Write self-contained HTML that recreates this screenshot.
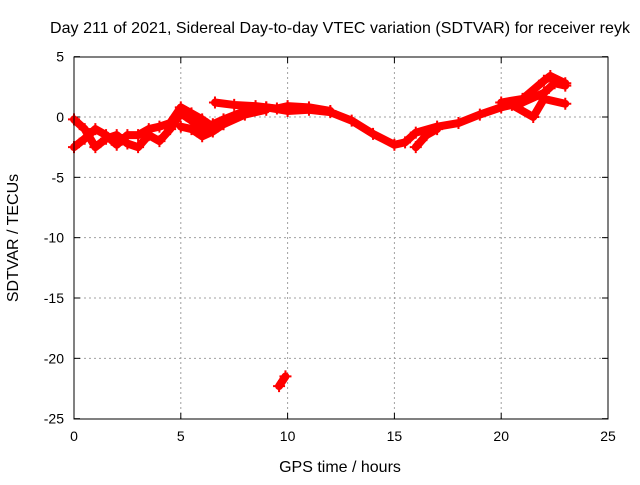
<!DOCTYPE html>
<html><head><meta charset="utf-8"><style>
body{margin:0;background:#fff}
svg text{font-family:"Liberation Sans",sans-serif;font-size:14px;fill:#000}
svg text.big{font-size:16px}
</style></head><body>
<svg id="chart" width="640" height="480">
<rect width="640" height="480" fill="#fff"/>
<text class="big" x="340" y="33" text-anchor="middle" textLength="580">Day 211 of 2021, Sidereal Day-to-day VTEC variation (SDTVAR) for receiver reyk</text>
<text class="big" x="340" y="472" text-anchor="middle">GPS time / hours</text>
<text class="big" transform="translate(18,238) rotate(-90)" text-anchor="middle">SDTVAR / TECUs</text>
<g id="grid"></g><g id="ticks"></g><g id="data"></g>
<rect x="74" y="57" width="534" height="362" fill="none" stroke="#000"/>
</svg>
<script>
const xTicks=[0,5,10,15,20,25];
const yTicks=[5,0,-5,-10,-15,-20,-25];
const track1=[[0,-0.2],[0.5,-1],[1,-2.5],[1.5,-1.8],[2,-1.5],[2.5,-2.2],[3,-2.5],[3.5,-1.5],[4,-2],[4.5,-1],[5,0.3],[5.5,-0.3],[6,-1],[6.5,-0.6],[7,-0.2],[8,0.5],[9,0.8],[10,0.5],[11,0.6],[12,0.4],[13,-0.3],[14,-1.4],[15,-2.3],[15.5,-2.1],[16,-1.3],[17,-0.8],[18,-0.5],[19,0.2],[20,0.8],[21,1.2],[22,2],[22.5,2.8],[23,2.6]];
const track2=[[0,-2.5],[0.5,-1.8],[1,-1],[1.5,-1.5],[2,-2.3],[2.5,-1.5],[3,-1.5],[3.5,-1],[4,-0.8],[4.5,-0.5],[5,0.8],[5.5,0.3],[6,-0.2],[6.5,-0.8],[7,-0.5],[7.5,0],[8,0.4],[9,0.8]];
const track3=[[5,-0.8],[5.5,-1],[6,-1.6],[6.5,-1.2],[7,-0.6],[8,0.2],[9,0.6]];
const track4=[[6.6,1.2],[7.5,1.0],[8.5,0.9],[9.5,0.7],[10,0.9],[11,0.8],[12,0.5]];
const track5=[[16,-2.5],[16.5,-1.5],[17,-1]];
const track6=[[20,1.2],[21,1.5],[22,3],[22.3,3.4],[23,2.8]];
const track7=[[20.5,1.0],[21.5,0],[22,1.5],[23,1.1]];
const track8=[[9.6,-22.3],[9.9,-21.5]];
const tracks=[track1,track2,track3,track4,track5,track6,track7,track8];
const X=h=>74+h*534/25, Y=v=>117-v*362/30;
const NS='http://www.w3.org/2000/svg';
function mk(t,a,p){const e=document.createElementNS(NS,t);for(const k in a)e.setAttribute(k,a[k]);p.appendChild(e);return e;}
const g=document.getElementById('grid'),tk=document.getElementById('ticks'),d=document.getElementById('data');
xTicks.forEach(v=>{const x=X(v);
 if(v>0&&v<25){const l=mk('line',{x1:x,x2:x,y1:57,y2:419,stroke:'#a0a0a0','stroke-dasharray':'2,3'},g);
 
 }
 mk('line',{x1:x,x2:x,y1:419,y2:413,stroke:'#000'},tk);mk('line',{x1:x,x2:x,y1:57,y2:63,stroke:'#000'},tk);
 const t=mk('text',{x:x,y:441,'text-anchor':'middle'},tk);t.textContent=v;
 
 });
yTicks.forEach(v=>{const y=Y(v);
 if(v>-25&&v<5){const l=mk('line',{x1:74,x2:608,y1:y,y2:y,stroke:'#a0a0a0','stroke-dasharray':'2,3'},g);
 
 }
 mk('line',{x1:74,x2:80,y1:y,y2:y,stroke:'#000'},tk);mk('line',{x1:608,x2:602,y1:y,y2:y,stroke:'#000'},tk);
 const t=mk('text',{x:64,y:y+5,'text-anchor':'end'},tk);t.textContent=v;
 
 });
tracks.forEach(tr=>{
 const pl=mk('polyline',{points:tr.map(p=>X(p[0])+','+Y(p[1])).join(' '),fill:'none',stroke:'#f00','stroke-width':8,'stroke-linejoin':'round','stroke-linecap':'round'},d);
 
 
 tr.forEach(p=>{const x=X(p[0]),y=Y(p[1]);
  const m=mk('path',{d:`M${x-6},${y}h12M${x},${y-6}v12`,stroke:'#f00','stroke-width':2},d);
  
  });
});
</script>
</body></html>
